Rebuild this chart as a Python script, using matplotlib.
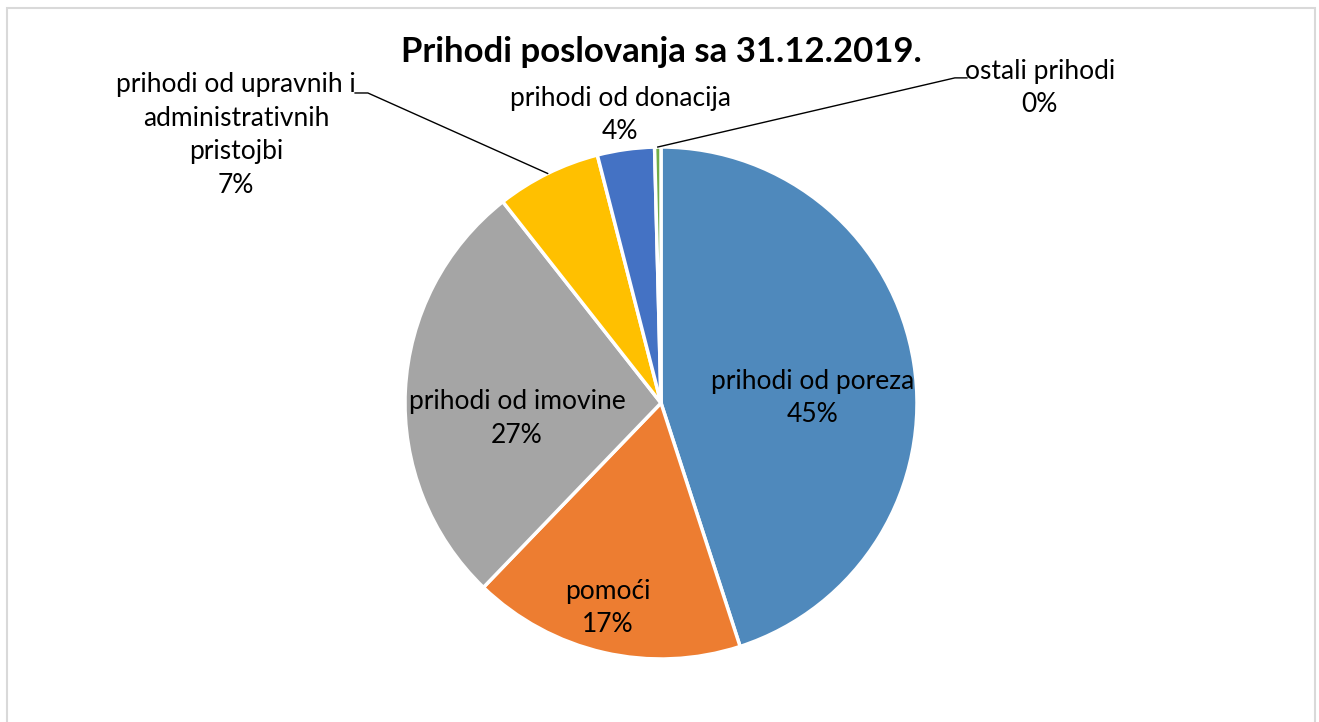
import numpy as np
import matplotlib
matplotlib.use("Agg")
import matplotlib.pyplot as plt
from matplotlib.patches import Rectangle

# ================ podaci ================
kategorije = ["prihodi od poreza", "pomoći", "prihodi od imovine",
              "prihodi od upravnih i\nadministrativnih\npristojbi",
              "prihodi od donacija", "ostali prihodi"]
udjeli = [45.0, 17.2, 27.2, 6.6, 3.6, 0.4]
boje = ["#4F89BC", "#ED7D31", "#A5A5A5", "#FFC000", "#4472C4", "#70AD47"]
naslov = "Prihodi poslovanja sa 31.12.2019."

plt.rcParams['font.family'] = ['Lato', 'DejaVu Sans']

W, H = 1319, 722
cx, cy, R = 661, 403, 256   # centar i radijus pite u pikselima

fig = plt.figure(figsize=(W / 100, H / 100), dpi=100)
ax = fig.add_axes([0, 0, 1, 1])

wedges, _ = ax.pie(udjeli, colors=boje, startangle=90, counterclock=False,
                   radius=1, wedgeprops=dict(edgecolor="white", linewidth=2.5))

ax.set_xlim(-cx / R, (W - cx) / R)
ax.set_ylim(-(H - cy) / R, cy / R)
ax.set_aspect("auto")
ax.axis("off")

# tekst oznaka: polozaj (u jedinicama radijusa)
pos_oznaka = [(0.594, 0.02), (-0.207, -0.80), (-0.5625, -0.06),
              (-1.66, 1.047), (-0.16, 1.125), (1.48, 1.23)]

fs = 19
for kat, u, (x, y) in zip(kategorije, udjeli, pos_oznaka):
    ax.text(x, y, "%s\n%d%%" % (kat, round(u)), ha="center", va="center",
            fontsize=fs, color="black", linespacing=1.42)

# linije vodilje
def rub(w):
    a = np.deg2rad((w.theta1 + w.theta2) / 2)
    return np.cos(a), np.sin(a)

x0, y0 = rub(wedges[3])
ax.plot([x0, -1.145, -1.195], [y0, 1.211, 1.211], color="black", lw=1)
x0, y0 = rub(wedges[5])
ax.plot([x0, 1.148, 1.195], [y0, 1.27, 1.27], color="black", lw=1)

ax.text(0.0, 1.371, naslov, ha="center", va="center", fontsize=25,
        fontweight="bold")

# okvir grafikona
fig.patches.append(Rectangle((7 / W, -0.05), (1315 - 7) / W, 1.05 - 7.5 / H,
                             transform=fig.transFigure, fill=False,
                             edgecolor="#D9D9D9", linewidth=1.5))

fig.savefig("out.png", dpi=100, facecolor="white")
